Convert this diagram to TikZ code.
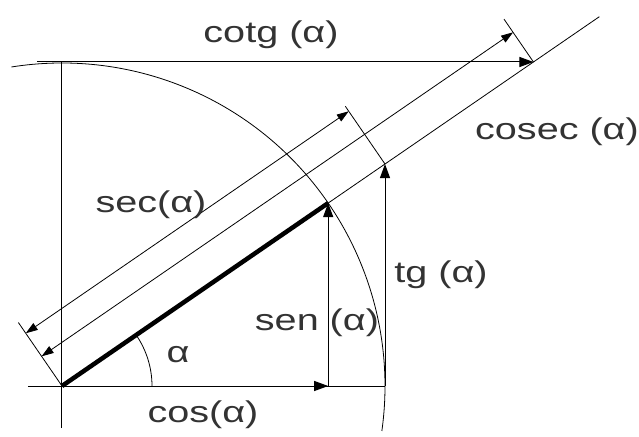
\documentclass[tikz,border=0pt]{standalone}
\usepackage{fontspec}
\setmainfont{Liberation Sans}
\usepackage{graphicx}
\usetikzlibrary{arrows.meta, calc}
\newcommand{\widelbl}[1]{\scalebox{1.32}[1]{#1}}

\begin{document}
\begin{tikzpicture}[x=1pt, y=1pt, >={Triangle[length=14pt,width=10pt]}, line width=1pt,
    lbl/.style={font=\fontsize{30}{35}\selectfont, text=black!80, inner sep=0pt, anchor=base},
    fine/.style={line width=0.8pt},
    dim/.style={<->, >={Triangle[length=12pt,width=8pt]}, line width=0.8pt}]
    \useasboundingbox (-62,-50) rectangle (577,386);

    % Puntos principales
    \coordinate (O) at (0,0);
    \coordinate (P) at (34.5:323);
    \coordinate (Q) at (P |- O);
    \coordinate (T) at (323,{323*tan(34.5)});
    \coordinate (C) at ({324/tan(34.5)},324);
    \coordinate (E) at (34.5:652);
    \coordinate (tb) at (323,0);
    \coordinate (xl) at (-34,0);
    \coordinate (yt) at (0,324);
    \coordinate (yb) at (0,-42);
    \coordinate (cl) at (-25,324);
    \coordinate (a0) at (99:323);
    \coordinate (g0) at (0:90);

    % Ejes y circunferencia
    \draw (xl) -- (tb);
    \draw (yb) -- (yt);
    \draw[fine] (a0) arc[start angle=99, end angle=-8, radius=323];
    \draw[fine] (g0) arc[start angle=0, end angle=34.5, radius=90];
    \draw[fine] (O) -- (E);
    \draw[line width=4.5pt] (O) -- (P);

    % Flechas
    \draw[->] (O) -- (Q);
    \draw[->] (Q) -- (P);
    \draw[->] (tb) -- (T);
    \draw[->] (cl) -- (C);

    % Cotas de sec y cosec
    \draw[fine] (O) -- ($(O)+(124.5:77)$);
    \draw[fine] (T) -- ($(T)+(124.5:70)$);
    \draw[fine] (C) -- ($(C)+(124.5:52)$);
    \draw[dim] ($(O)+(124.5:64)$) -- ($(T)+(124.5:64)$);
    \draw[dim] ($(O)+(124.5:36)$) -- ($(C)+(124.5:36)$);

    % Etiquetas
    \node[lbl] (cotg) at (209,343) {\widelbl{cotg (α)}};
    \node[lbl] (cosec) at (495,246) {\widelbl{cosec (α)}};
    \node[lbl] (sec) at (89,173) {\widelbl{sec(α)}};
    \node[lbl] (tg) at (379,103) {\widelbl{tg (α)}};
    \node[lbl] (sen) at (255,56) {\widelbl{sen (α)}};
    \node[lbl] (cos) at (141,-36) {\widelbl{cos(α)}};
    \node[lbl, anchor=center] (alpha) at (116,31) {\widelbl{α}};
\end{tikzpicture}
\end{document}
